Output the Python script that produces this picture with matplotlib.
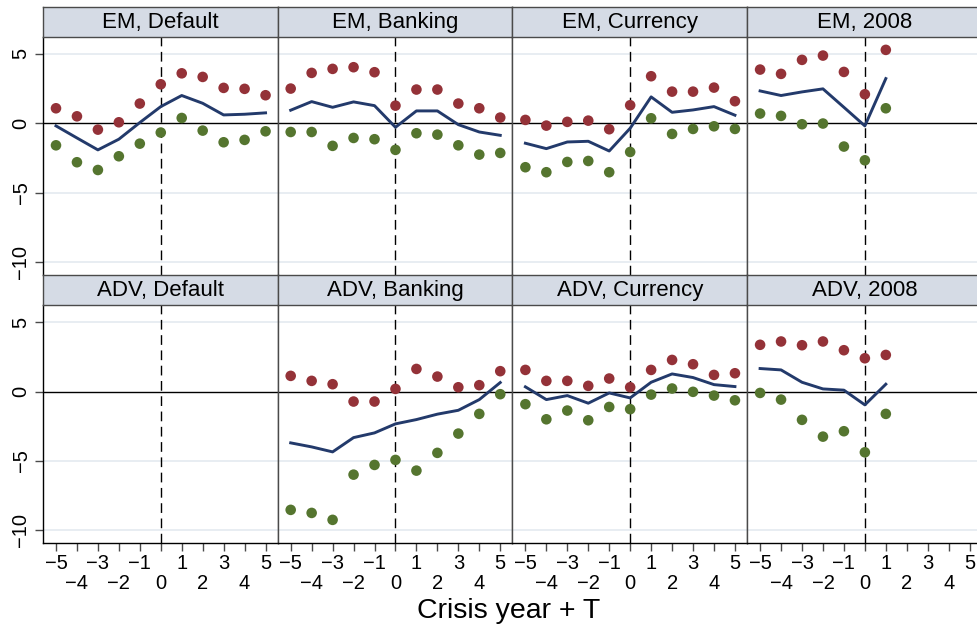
import numpy as np
import matplotlib
matplotlib.use("Agg")
import matplotlib.pyplot as plt

plt.rcParams['font.family'] = ['Liberation Sans', 'DejaVu Sans']

# ---------------- data ----------------
years = [-5, -4, -3, -2, -1, 0, 1, 2, 3, 4, 5]
years_2008 = [-5, -4, -3, -2, -1, 0, 1]

titles = ["EM, Default", "EM, Banking", "EM, Currency", "EM, 2008",
          "ADV, Default", "ADV, Banking", "ADV, Currency", "ADV, 2008"]

em_default_upper = [1.08, 0.50, -0.46, 0.07, 1.42, 2.81, 3.60, 3.34, 2.55, 2.48, 2.02]
em_default_lower = [-1.59, -2.81, -3.37, -2.38, -1.47, -0.67, 0.38, -0.53, -1.37, -1.20, -0.58]
em_default_coef = [-0.19, -1.06, -1.92, -1.15, 0.05, 1.20, 2.00, 1.44, 0.60, 0.65, 0.75]

em_banking_upper = [2.50, 3.63, 3.92, 4.04, 3.68, 1.27, 2.43, 2.43, 1.42, 1.08, 0.41]
em_banking_lower = [-0.63, -0.63, -1.63, -1.06, -1.15, -1.92, -0.72, -0.82, -1.59, -2.26, -2.14]
em_banking_coef = [0.94, 1.56, 1.15, 1.54, 1.27, -0.29, 0.89, 0.89, -0.10, -0.63, -0.87]

em_currency_upper = [0.24, -0.17, 0.10, 0.19, -0.43, 1.30, 3.39, 2.28, 2.28, 2.57, 1.59]
em_currency_lower = [-3.17, -3.53, -2.79, -2.72, -3.53, -2.07, 0.36, -0.77, -0.41, -0.22, -0.41]
em_currency_coef = [-1.44, -1.83, -1.35, -1.30, -2.00, -0.36, 1.90, 0.79, 0.96, 1.20, 0.58]

em_2008_upper = [3.87, 3.56, 4.57, 4.88, 3.70, 2.09, 5.29]
em_2008_lower = [0.70, 0.53, -0.07, -0.02, -1.68, -2.67, 1.08]
em_2008_coef = [2.33, 2.00, 2.26, 2.48, 1.15, -0.19, 3.22]

adv_default_upper = []
adv_default_lower = []
adv_default_coef = []

adv_banking_upper = [1.13, 0.77, 0.53, -0.72, -0.72, 0.19, 1.63, 1.08, 0.31, 0.46, 1.47]
adv_banking_lower = [-8.53, -8.75, -9.25, -5.99, -5.29, -4.93, -5.70, -4.42, -3.03, -1.61, -0.19]
adv_banking_coef = [-3.70, -3.99, -4.35, -3.32, -2.98, -2.33, -2.02, -1.63, -1.35, -0.58, 0.65]

adv_currency_upper = [1.56, 0.77, 0.77, 0.41, 0.94, 0.31, 1.56, 2.28, 1.97, 1.20, 1.32]
adv_currency_lower = [-0.91, -2.00, -1.37, -2.07, -1.11, -1.27, -0.22, 0.22, -0.02, -0.29, -0.63]
adv_currency_coef = [0.34, -0.58, -0.29, -0.84, -0.10, -0.46, 0.67, 1.27, 1.01, 0.50, 0.36]

adv_2008_upper = [3.37, 3.61, 3.34, 3.61, 2.98, 2.40, 2.64]
adv_2008_lower = [-0.10, -0.58, -2.04, -3.25, -2.86, -4.38, -1.61]
adv_2008_coef = [1.66, 1.56, 0.67, 0.19, 0.10, -0.96, 0.53]

panels = [
    (years, em_default_upper, em_default_lower, em_default_coef),
    (years, em_banking_upper, em_banking_lower, em_banking_coef),
    (years, em_currency_upper, em_currency_lower, em_currency_coef),
    (years_2008, em_2008_upper, em_2008_lower, em_2008_coef),
    ([], adv_default_upper, adv_default_lower, adv_default_coef),
    (years, adv_banking_upper, adv_banking_lower, adv_banking_coef),
    (years, adv_currency_upper, adv_currency_lower, adv_currency_coef),
    (years_2008, adv_2008_upper, adv_2008_lower, adv_2008_coef),
]

y_ticks = [-10, -5, 0, 5]
x_odd = [-5, -3, -1, 1, 3, 5]
x_even = [-4, -2, 0, 2, 4]
xlabel = "Crisis year + T"

# ---------------- styling ----------------
W, H = 977, 629
NAVY = '#233a6b'
MAROON = '#943238'
GREEN = '#55752f'
STRIP = '#d5dbe5'
GRID = '#e4eaf0'
FRAME = '#4a4a4a'

fig = plt.figure(figsize=(W / 100, H / 100), dpi=100)
fig.patch.set_facecolor('white')

def rect(left, top, w, h):
    return [left / W, 1 - (top + h) / H, w / W, h / H]

def minus(v):
    return str(v).replace('-', '\u2212')

panel_w = 234.7
lefts = [43 + i * panel_w for i in range(4)]
row_strip_top = [6.7, 275.0]
strip_h = 30.0
plot_h = 238.3

for k, (xs, up, lo, co) in enumerate(panels):
    r, c = divmod(k, 4)
    left = lefts[c]
    stop = row_strip_top[r]
    ptop = stop + strip_h

    ax = fig.add_axes(rect(left, ptop, panel_w, plot_h))
    ax.set_xlim(-5.62, 5.58)
    ax.set_ylim(-10.94, 6.24)
    for yv in y_ticks:
        if yv != 0:
            ax.axhline(yv, color=GRID, lw=1.2, zorder=0)
    ax.axhline(0, color='black', lw=1.0, zorder=1)
    ax.axvline(0, color='black', lw=1.0, ls=(0, (7, 4)), zorder=1)

    if len(xs):
        ax.plot(xs, co, color=NAVY, lw=2.1, zorder=3, solid_joinstyle='round')
        ax.scatter(xs, up, s=58, color=MAROON, edgecolors='none', zorder=4)
        ax.scatter(xs, lo, s=58, color=GREEN, edgecolors='none', zorder=4)

    for sp in ax.spines.values():
        sp.set_color(FRAME)
        sp.set_linewidth(1.0)
    ax.spines['top'].set_visible(False)

    ax.set_yticks(y_ticks)
    if c == 0:
        ax.set_yticklabels([minus(v) for v in y_ticks], rotation=90,
                           va='center', fontsize=14.5)
        ax.tick_params(axis='y', length=6, width=1, color=FRAME, pad=3)
        ax.spines['left'].set_color('black')
    else:
        ax.tick_params(axis='y', length=0, labelleft=False)

    if r == 1:
        ax.set_xticks(x_odd)
        ax.set_xticklabels([minus(v) for v in x_odd], fontsize=14.5)
        ax.set_xticks(x_even, minor=True)
        ax.set_xticklabels([minus(v) for v in x_even], minor=True, fontsize=14.5)
        ax.tick_params(axis='x', which='major', length=6, width=1,
                       color=FRAME, pad=2)
        ax.tick_params(axis='x', which='minor', length=6, width=1,
                       color=FRAME, pad=16)
        ax.spines['bottom'].set_color('black')
    else:
        ax.set_xticks([])
        ax.spines['bottom'].set_visible(False)

    sax = fig.add_axes(rect(left, stop, panel_w, strip_h))
    sax.set_facecolor(STRIP)
    sax.set_xticks([])
    sax.set_yticks([])
    for sp in sax.spines.values():
        sp.set_color(FRAME)
        sp.set_linewidth(1.0)
    sax.text(0.5, 0.47, titles[k], ha='center', va='center', fontsize=16,
             transform=sax.transAxes)

fig.text(509 / W, 1 - 611 / H, xlabel, ha='center', va='center', fontsize=20.5)

fig.savefig('out.png', dpi=100)
